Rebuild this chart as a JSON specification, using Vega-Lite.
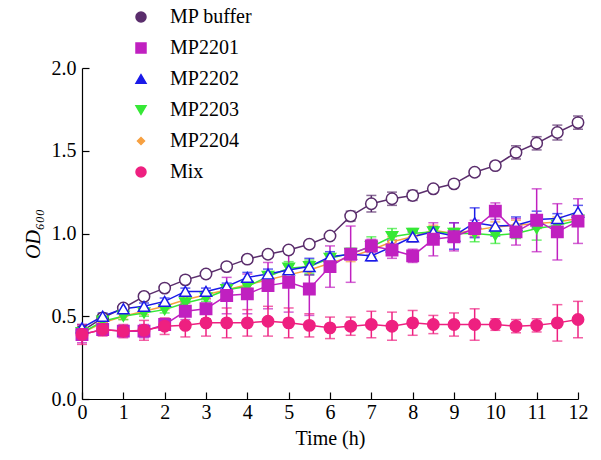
{
  "$schema": "https://vega.github.io/schema/vega-lite/v6.json",
  "width": 496,
  "height": 331,
  "autosize": {"type": "none"},
  "padding": {"left": 82, "top": 68, "right": 23, "bottom": 61},
  "background": "white",
  "config": {
    "view": {"stroke": null},
    "font": "Liberation Serif",
    "style": {
      "guide-label": {"font": "Liberation Serif", "fontSize": 20, "fill": "black"},
      "guide-title": {"font": "Liberation Serif", "fontSize": 20, "fontWeight": 400, "fill": "black"}
    },
    "axis": {
      "grid": false,
      "domainColor": "black",
      "domainWidth": 1.2,
      "tickColor": "black",
      "tickWidth": 1.2,
      "tickSize": -7,
      "labelFont": "Liberation Serif",
      "labelFontSize": 20,
      "labelColor": "black",
      "titleFont": "Liberation Serif",
      "titleFontSize": 20,
      "titleFontWeight": 400,
      "titleColor": "black"
    },
    "legend": {
      "labelFont": "Liberation Serif",
      "labelFontSize": 20,
      "labelColor": "black",
      "symbolStrokeWidth": 1.5,
      "symbolOpacity": 1
    }
  },
  "data": {"values": [
    {"series":"MP buffer","t":0,"od":0.41,"err":0.02},
    {"series":"MP buffer","t":0.5,"od":0.49,"err":0.02},
    {"series":"MP buffer","t":1,"od":0.55,"err":0.02},
    {"series":"MP buffer","t":1.5,"od":0.62,"err":0.02},
    {"series":"MP buffer","t":2,"od":0.67,"err":0.02},
    {"series":"MP buffer","t":2.5,"od":0.72,"err":0.02},
    {"series":"MP buffer","t":3,"od":0.755,"err":0.02},
    {"series":"MP buffer","t":3.5,"od":0.80,"err":0.02},
    {"series":"MP buffer","t":4,"od":0.845,"err":0.02},
    {"series":"MP buffer","t":4.5,"od":0.875,"err":0.02},
    {"series":"MP buffer","t":5,"od":0.90,"err":0.02},
    {"series":"MP buffer","t":5.5,"od":0.935,"err":0.02},
    {"series":"MP buffer","t":6,"od":0.985,"err":0.02},
    {"series":"MP buffer","t":6.5,"od":1.105,"err":0.03},
    {"series":"MP buffer","t":7,"od":1.18,"err":0.05},
    {"series":"MP buffer","t":7.5,"od":1.21,"err":0.04},
    {"series":"MP buffer","t":8,"od":1.23,"err":0.03},
    {"series":"MP buffer","t":8.5,"od":1.27,"err":0.02},
    {"series":"MP buffer","t":9,"od":1.30,"err":0.02},
    {"series":"MP buffer","t":9.5,"od":1.37,"err":0.02},
    {"series":"MP buffer","t":10,"od":1.41,"err":0.02},
    {"series":"MP buffer","t":10.5,"od":1.49,"err":0.04},
    {"series":"MP buffer","t":11,"od":1.545,"err":0.04},
    {"series":"MP buffer","t":11.5,"od":1.61,"err":0.045},
    {"series":"MP buffer","t":12,"od":1.67,"err":0.04},

    {"series":"MP2204","t":0,"od":0.40,"err":0.02},
    {"series":"MP2204","t":0.5,"od":0.46,"err":0.02},
    {"series":"MP2204","t":1,"od":0.50,"err":0.02},
    {"series":"MP2204","t":1.5,"od":0.53,"err":0.02},
    {"series":"MP2204","t":2,"od":0.56,"err":0.02},
    {"series":"MP2204","t":2.5,"od":0.60,"err":0.02},
    {"series":"MP2204","t":3,"od":0.63,"err":0.02},
    {"series":"MP2204","t":3.5,"od":0.66,"err":0.02},
    {"series":"MP2204","t":4,"od":0.69,"err":0.02},
    {"series":"MP2204","t":4.5,"od":0.72,"err":0.02},
    {"series":"MP2204","t":5,"od":0.75,"err":0.02},
    {"series":"MP2204","t":5.5,"od":0.78,"err":0.03},
    {"series":"MP2204","t":6,"od":0.82,"err":0.03},
    {"series":"MP2204","t":6.5,"od":0.86,"err":0.03},
    {"series":"MP2204","t":7,"od":0.90,"err":0.03},
    {"series":"MP2204","t":7.5,"od":0.95,"err":0.03},
    {"series":"MP2204","t":8,"od":0.98,"err":0.03},
    {"series":"MP2204","t":8.5,"od":1.02,"err":0.03},
    {"series":"MP2204","t":9,"od":1.00,"err":0.03},
    {"series":"MP2204","t":9.5,"od":1.02,"err":0.03},
    {"series":"MP2204","t":10,"od":1.04,"err":0.03},
    {"series":"MP2204","t":10.5,"od":1.05,"err":0.03},
    {"series":"MP2204","t":11,"od":1.06,"err":0.03},
    {"series":"MP2204","t":11.5,"od":1.07,"err":0.03},
    {"series":"MP2204","t":12,"od":1.09,"err":0.03},

    {"series":"MP2203","t":0,"od":0.40,"err":0.02},
    {"series":"MP2203","t":0.5,"od":0.47,"err":0.02},
    {"series":"MP2203","t":1,"od":0.50,"err":0.02},
    {"series":"MP2203","t":1.5,"od":0.52,"err":0.02},
    {"series":"MP2203","t":2,"od":0.54,"err":0.02},
    {"series":"MP2203","t":2.5,"od":0.58,"err":0.02},
    {"series":"MP2203","t":3,"od":0.61,"err":0.02},
    {"series":"MP2203","t":3.5,"od":0.66,"err":0.03},
    {"series":"MP2203","t":4,"od":0.68,"err":0.03},
    {"series":"MP2203","t":4.5,"od":0.74,"err":0.03},
    {"series":"MP2203","t":5,"od":0.79,"err":0.04},
    {"series":"MP2203","t":5.5,"od":0.80,"err":0.04},
    {"series":"MP2203","t":6,"od":0.85,"err":0.03},
    {"series":"MP2203","t":6.5,"od":0.88,"err":0.03},
    {"series":"MP2203","t":7,"od":0.92,"err":0.06},
    {"series":"MP2203","t":7.5,"od":0.98,"err":0.05},
    {"series":"MP2203","t":8,"od":1.00,"err":0.03},
    {"series":"MP2203","t":8.5,"od":1.01,"err":0.03},
    {"series":"MP2203","t":9,"od":1.00,"err":0.03},
    {"series":"MP2203","t":9.5,"od":1.00,"err":0.05},
    {"series":"MP2203","t":10,"od":0.99,"err":0.05},
    {"series":"MP2203","t":10.5,"od":1.00,"err":0.03},
    {"series":"MP2203","t":11,"od":1.03,"err":0.07},
    {"series":"MP2203","t":11.5,"od":1.05,"err":0.04},
    {"series":"MP2203","t":12,"od":1.08,"err":0.03},

    {"series":"MP2202","t":0,"od":0.43,"err":0.02},
    {"series":"MP2202","t":0.5,"od":0.50,"err":0.02},
    {"series":"MP2202","t":1,"od":0.545,"err":0.02},
    {"series":"MP2202","t":1.5,"od":0.56,"err":0.02},
    {"series":"MP2202","t":2,"od":0.59,"err":0.02},
    {"series":"MP2202","t":2.5,"od":0.65,"err":0.02},
    {"series":"MP2202","t":3,"od":0.65,"err":0.02},
    {"series":"MP2202","t":3.5,"od":0.68,"err":0.02},
    {"series":"MP2202","t":4,"od":0.735,"err":0.03},
    {"series":"MP2202","t":4.5,"od":0.755,"err":0.03},
    {"series":"MP2202","t":5,"od":0.78,"err":0.03},
    {"series":"MP2202","t":5.5,"od":0.80,"err":0.05},
    {"series":"MP2202","t":6,"od":0.86,"err":0.03},
    {"series":"MP2202","t":6.5,"od":0.875,"err":0.03},
    {"series":"MP2202","t":7,"od":0.865,"err":0.03},
    {"series":"MP2202","t":7.5,"od":0.92,"err":0.04},
    {"series":"MP2202","t":8,"od":0.98,"err":0.03},
    {"series":"MP2202","t":8.5,"od":1.01,"err":0.03},
    {"series":"MP2202","t":9,"od":0.985,"err":0.08},
    {"series":"MP2202","t":9.5,"od":1.065,"err":0.09},
    {"series":"MP2202","t":10,"od":1.045,"err":0.06},
    {"series":"MP2202","t":10.5,"od":1.05,"err":0.05},
    {"series":"MP2202","t":11,"od":1.085,"err":0.05},
    {"series":"MP2202","t":11.5,"od":1.09,"err":0.03},
    {"series":"MP2202","t":12,"od":1.13,"err":0.04},

    {"series":"MP2201","t":0,"od":0.39,"err":0.05},
    {"series":"MP2201","t":0.5,"od":0.42,"err":0.03},
    {"series":"MP2201","t":1,"od":0.41,"err":0.03},
    {"series":"MP2201","t":1.5,"od":0.41,"err":0.04},
    {"series":"MP2201","t":2,"od":0.45,"err":0.03},
    {"series":"MP2201","t":2.5,"od":0.53,"err":0.05},
    {"series":"MP2201","t":3,"od":0.545,"err":0.06},
    {"series":"MP2201","t":3.5,"od":0.625,"err":0.11},
    {"series":"MP2201","t":4,"od":0.635,"err":0.12},
    {"series":"MP2201","t":4.5,"od":0.685,"err":0.14},
    {"series":"MP2201","t":5,"od":0.705,"err":0.18},
    {"series":"MP2201","t":5.5,"od":0.665,"err":0.16},
    {"series":"MP2201","t":6,"od":0.80,"err":0.125},
    {"series":"MP2201","t":6.5,"od":0.875,"err":0.17},
    {"series":"MP2201","t":7,"od":0.925,"err":0.04},
    {"series":"MP2201","t":7.5,"od":0.90,"err":0.05},
    {"series":"MP2201","t":8,"od":0.865,"err":0.04},
    {"series":"MP2201","t":8.5,"od":0.965,"err":0.10},
    {"series":"MP2201","t":9,"od":0.98,"err":0.085},
    {"series":"MP2201","t":9.5,"od":1.03,"err":0.05},
    {"series":"MP2201","t":10,"od":1.135,"err":0.05},
    {"series":"MP2201","t":10.5,"od":1.01,"err":0.08},
    {"series":"MP2201","t":11,"od":1.08,"err":0.19},
    {"series":"MP2201","t":11.5,"od":1.01,"err":0.17},
    {"series":"MP2201","t":12,"od":1.075,"err":0.135},

    {"series":"Mix","t":0,"od":0.39,"err":0.06},
    {"series":"Mix","t":0.5,"od":0.42,"err":0.04},
    {"series":"Mix","t":1,"od":0.41,"err":0.04},
    {"series":"Mix","t":1.5,"od":0.415,"err":0.06},
    {"series":"Mix","t":2,"od":0.44,"err":0.05},
    {"series":"Mix","t":2.5,"od":0.445,"err":0.07},
    {"series":"Mix","t":3,"od":0.46,"err":0.08},
    {"series":"Mix","t":3.5,"od":0.46,"err":0.09},
    {"series":"Mix","t":4,"od":0.46,"err":0.08},
    {"series":"Mix","t":4.5,"od":0.47,"err":0.09},
    {"series":"Mix","t":5,"od":0.46,"err":0.09},
    {"series":"Mix","t":5.5,"od":0.445,"err":0.07},
    {"series":"Mix","t":6,"od":0.43,"err":0.065},
    {"series":"Mix","t":6.5,"od":0.44,"err":0.055},
    {"series":"Mix","t":7,"od":0.45,"err":0.08},
    {"series":"Mix","t":7.5,"od":0.44,"err":0.085},
    {"series":"Mix","t":8,"od":0.46,"err":0.075},
    {"series":"Mix","t":8.5,"od":0.45,"err":0.055},
    {"series":"Mix","t":9,"od":0.45,"err":0.07},
    {"series":"Mix","t":9.5,"od":0.45,"err":0.095},
    {"series":"Mix","t":10,"od":0.45,"err":0.035},
    {"series":"Mix","t":10.5,"od":0.44,"err":0.04},
    {"series":"Mix","t":11,"od":0.445,"err":0.04},
    {"series":"Mix","t":11.5,"od":0.46,"err":0.11},
    {"series":"Mix","t":12,"od":0.48,"err":0.11}
  ]},
  "encoding": {
    "x": {
      "field": "t", "type": "quantitative",
      "scale": {"domain": [0, 12], "nice": false, "zero": false},
      "axis": {"title": "Time (h)", "titleFontWeight": 400, "values": [0,1,2,3,4,5,6,7,8,9,10,11,12], "format": "d", "labelFlush": false, "labelPadding": 10, "titlePadding": 6}
    },
    "y": {
      "field": "od", "type": "quantitative",
      "scale": {"domain": [0, 2], "nice": false},
      "axis": {"title": "OD₆₀₀", "titleFontStyle": "italic", "titleFontWeight": 400, "values": [0, 0.5, 1, 1.5, 2], "format": ".1f", "labelPadding": 13, "titlePadding": 8}
    },
    "color": {
      "field": "series", "type": "nominal",
      "scale": {
        "domain": ["MP buffer", "MP2201", "MP2202", "MP2203", "MP2204", "Mix"],
        "range": ["#5a2d6c", "#c020c0", "#1a1ae8", "#36e836", "#f7a040", "#ee2080"]
      },
      "legend": {
        "title": null, "orient": "none", "legendX": 49, "legendY": -61, "padding": 0,
        "rowPadding": 11, "symbolSize": 100, "symbolStrokeWidth": 1.5, "symbolOpacity": 1, "labelOffset": 19,
        "labelFontSize": 20, "labelFont": "Liberation Serif", "labelColor": "black"
      }
    }
  },
  "layer": [
    {
      "mark": {"type": "errorbar", "ticks": {"size": 10}, "thickness": 1.5},
      "encoding": {
        "yError": {"field": "err"}
      }
    },
    {
      "mark": {"type": "line", "strokeWidth": 1.5},
      "encoding": {}
    },
    {
      "mark": {"type": "point", "filled": false, "strokeWidth": 1.5, "size": 130, "opacity": 1},
      "encoding": {
        "fill": {
          "field": "series", "type": "nominal",
          "scale": {
            "domain": ["MP buffer", "MP2201", "MP2202", "MP2203", "MP2204", "Mix"],
            "range": ["white", "#c020c0", "white", "#36e836", "white", "#ee2080"]
          },
          "legend": {
            "title": null, "orient": "none", "legendX": 49, "legendY": -61, "padding": 0,
            "rowPadding": 11, "symbolSize": 100, "symbolStrokeWidth": 1.5, "symbolOpacity": 1, "labelOffset": 19,
            "labelFontSize": 20, "labelFont": "Liberation Serif", "labelColor": "black"
          }
        },
        "shape": {
          "field": "series", "type": "nominal",
          "scale": {
            "domain": ["MP buffer", "MP2201", "MP2202", "MP2203", "MP2204", "Mix"],
            "range": ["circle", "square", "triangle-up", "triangle-down", "M0,-0.7L0.7,0L0,0.7L-0.7,0Z", "circle"]
          },
          "legend": {
            "title": null, "orient": "none", "legendX": 49, "legendY": -61, "padding": 0,
            "rowPadding": 11, "symbolSize": 100, "symbolStrokeWidth": 1.5, "symbolOpacity": 1, "labelOffset": 19,
            "labelFontSize": 20, "labelFont": "Liberation Serif", "labelColor": "black"
          }
        }
      }
    }
  ]
}
